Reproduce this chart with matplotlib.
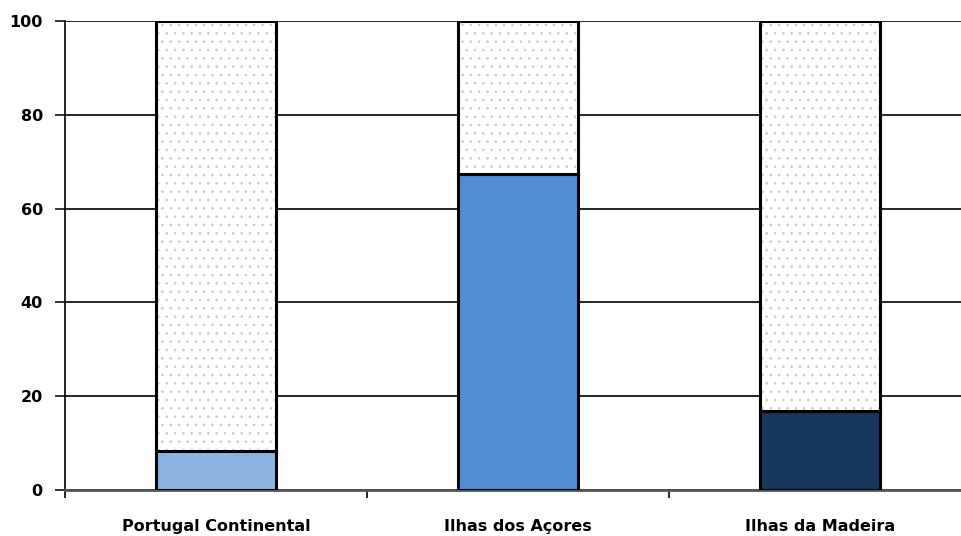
import matplotlib.pyplot as plt
import numpy as np

regioes = ['Portugal Continental', 'Ilhas dos Açores', 'Ilhas da Madeira']
percentagem = [8.3, 67.4, 16.8]
cores = ['#8db3e2', '#548dd4', '#17375e']
resto = [100 - p for p in percentagem]

plt.rcParams['hatch.linewidth'] = 0.6

fig = plt.figure(figsize=(9.61, 5.36), dpi=100)
ax = fig.add_axes([65 / 961, 46 / 536, 906 / 961, 469 / 536])

x = np.arange(len(regioes))
largura = 0.4

# parte colorida em baixo, parte pontilhada por cima
ax.bar(x, percentagem, largura, color=cores, edgecolor='black', linewidth=2.2, zorder=3)
ax.bar(x, resto, largura, bottom=percentagem, color='white', edgecolor='#c8c8c8',
       hatch='..', linewidth=0, zorder=3)
ax.bar(x, resto, largura, bottom=percentagem, fill=False, edgecolor='black',
       linewidth=2.2, zorder=4)

ax.set_ylim(0, 100)
ax.set_xlim(-0.5, 2.5)
ax.set_yticks([0, 20, 40, 60, 80, 100])
ax.yaxis.grid(True, color='black', linewidth=1.2, zorder=0)
ax.set_axisbelow(True)

ax.set_xticks([-0.5, 0.5, 1.5])
ax.set_xticklabels([])
ax.set_xticks(x, minor=True)
ax.set_xticklabels(regioes, minor=True, fontsize=11.5, fontweight='bold')
ax.tick_params(axis='x', which='minor', length=0, pad=21)
ax.tick_params(axis='x', which='major', length=6, width=1.2, color='black')
ax.tick_params(axis='y', length=7, width=1.1, labelsize=11.5, pad=9)
for t in ax.get_yticklabels():
    t.set_fontweight('bold')

for lado in ['top', 'right']:
    ax.spines[lado].set_visible(False)
ax.spines['left'].set_linewidth(1.2)
ax.spines['bottom'].set_color('#555555')
ax.spines['bottom'].set_linewidth(2)

fig.savefig('out.png', dpi=100)
